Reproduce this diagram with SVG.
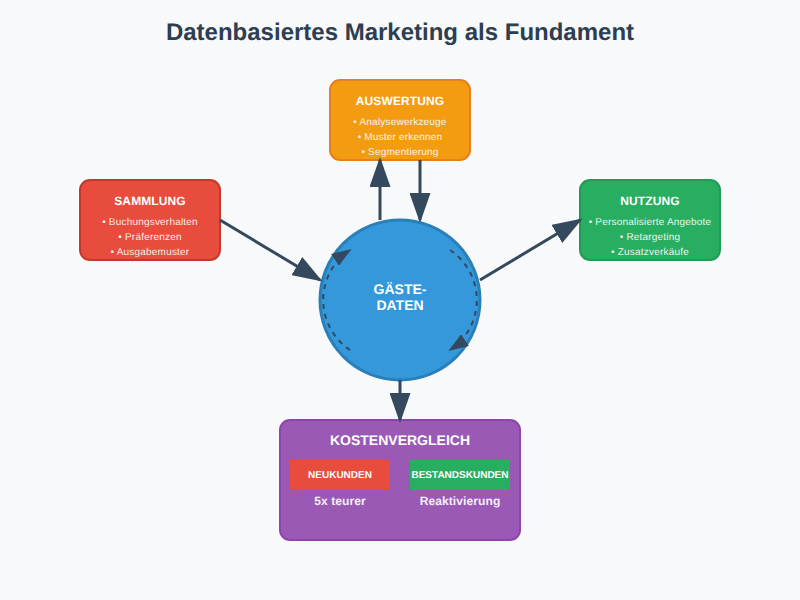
<svg xmlns="http://www.w3.org/2000/svg" width="800" height="600" viewBox="0 0 800 600">
<style>
text{font-family:"Liberation Sans",Arial,sans-serif;text-anchor:middle;fill:#fff;text-rendering:geometricPrecision}
.title{font-size:24px;font-weight:bold;fill:#2c3e50}
.h{font-size:12px;font-weight:bold;letter-spacing:.1px}
.b{font-size:10px;letter-spacing:.2px;opacity:.9}
.box{stroke-width:2}
.c{fill:none;stroke:#34495e;stroke-width:3}
.d{fill:none;stroke:#34495e;stroke-width:2;stroke-dasharray:5 5}
.s{font-size:10px;font-weight:bold}
.l{font-size:12px;font-weight:bold;letter-spacing:.1px;opacity:.9}
</style>
<defs>
<marker id="a" markerWidth="10" markerHeight="7" refX="9" refY="3.5" orient="auto"><polygon points="0 0,10 3.5,0 7" fill="#34495e"/></marker>
</defs>
<rect width="800" height="600" fill="#f8f9fa"/>
<text class="title" x="400" y="40">Datenbasiertes Marketing als Fundament</text>
<g id="sammlung">
<rect class="box" x="80" y="180" width="140" height="80" rx="10" fill="#e74c3c" stroke="#c0392b"/>
<text class="h" x="150" y="205">SAMMLUNG</text>
<text class="b" x="150" y="225">• Buchungsverhalten</text>
<text class="b" x="150" y="240">• Präferenzen</text>
<text class="b" x="150" y="255">• Ausgabemuster</text>
</g>
<g id="auswertung">
<rect class="box" x="330" y="80" width="140" height="80" rx="10" fill="#f39c12" stroke="#e67e22"/>
<text class="h" x="400" y="105">AUSWERTUNG</text>
<text class="b" x="400" y="125">• Analysewerkzeuge</text>
<text class="b" x="400" y="140">• Muster erkennen</text>
<text class="b" x="400" y="155">• Segmentierung</text>
</g>
<g id="nutzung">
<rect class="box" x="580" y="180" width="140" height="80" rx="10" fill="#27ae60" stroke="#229954"/>
<text class="h" x="650" y="205">NUTZUNG</text>
<text class="b" x="650" y="225">• Personalisierte Angebote</text>
<text class="b" x="650" y="240">• Retargeting</text>
<text class="b" x="650" y="255">• Zusatzverkäufe</text>
</g>
<g id="gaestedaten">
<circle cx="400" cy="300" r="80" fill="#3498db" stroke="#2980b9" stroke-width="3"/>
<text x="400" y="294" font-size="14" font-weight="bold">GÄSTE-</text>
<text x="400" y="310" font-size="14" font-weight="bold">DATEN</text>
</g>
<g id="kostenvergleich">
<rect class="box" x="280" y="420" width="240" height="120" rx="10" fill="#9b59b6" stroke="#8e44ad"/>
<text x="400" y="445" font-size="14" font-weight="bold">KOSTENVERGLEICH</text>
<rect x="290" y="460" width="100" height="30" fill="#e74c3c"/>
<text class="s" x="340" y="478">NEUKUNDEN</text>
<rect x="410" y="460" width="100" height="30" fill="#27ae60"/>
<text class="s" x="460" y="478">BESTANDSKUNDEN</text>
<text class="l" x="340" y="505">5x teurer</text>
<text class="l" x="460" y="505">Reaktivierung</text>
</g>
<g id="connectors">
<path class="c" d="M220 220L320 280" marker-end="url(#a)"/>
<path class="c" d="M380 220V160" marker-end="url(#a)"/>
<path class="c" d="M420 160V220" marker-end="url(#a)"/>
<path class="c" d="M480 280L580 220" marker-end="url(#a)"/>
<path class="c" d="M400 380V420" marker-end="url(#a)"/>
<path class="d" d="M350 350A60 60 0 0 1 350 250" marker-end="url(#a)"/>
<path class="d" d="M450 250A60 60 0 0 1 450 350" marker-end="url(#a)"/>
</g>
</svg>
